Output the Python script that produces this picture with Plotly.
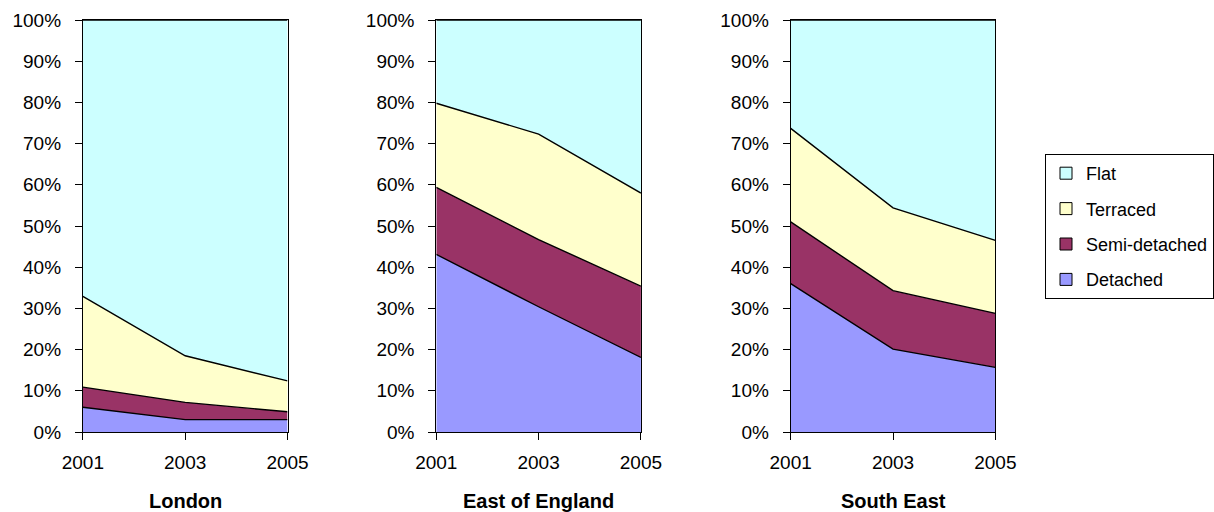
import plotly.graph_objects as go

years = [2001, 2003, 2005]
series_names = ["Detached", "Semi-detached", "Terraced", "Flat"]
colors = ["#9999FF", "#993366", "#FFFFCC", "#CCFFFF"]

regions = ["London", "East of England", "South East"]

london_detached = [6.0, 3.0, 3.0]
london_semi = [4.9, 4.2, 1.9]
london_terraced = [22.0, 11.3, 7.5]
london_flat = [67.1, 81.5, 87.6]

east_detached = [43.1, 30.4, 18.1]
east_semi = [16.3, 16.3, 17.3]
east_terraced = [20.4, 25.6, 22.6]
east_flat = [20.2, 27.7, 42.0]

se_detached = [36.0, 20.1, 15.7]
se_semi = [15.0, 14.2, 13.1]
se_terraced = [22.7, 20.1, 17.7]
se_flat = [26.3, 45.6, 53.5]

pct_ticks = list(range(0, 101, 10))
pct_labels = [f"{v}%" for v in pct_ticks]

region_data = [
    [london_detached, london_semi, london_terraced, london_flat],
    [east_detached, east_semi, east_terraced, east_flat],
    [se_detached, se_semi, se_terraced, se_flat],
]

W, H = 1214, 512
left_px = [83, 437, 792]
width_px = 205
top_px, bottom_px = 20, 432


def fx(px):
    return px / W


def fy(py):
    return 1 - py / H


FONT = "Liberation Sans, Arial, sans-serif"

fig = go.Figure()
layout = {}
for r, (reg, data) in enumerate(zip(regions, region_data)):
    sfx = "" if r == 0 else str(r + 1)
    for s, (name, vals, col) in enumerate(zip(series_names, data, colors)):
        fig.add_trace(go.Scatter(
            x=years, y=vals, name=name, mode="lines",
            stackgroup=f"g{r}", groupnorm="percent",
            line=dict(color="black", width=1.4),
            fillcolor=col,
            xaxis="x" + sfx, yaxis="y" + sfx,
            showlegend=False,
            hoverinfo="skip",
        ))
    x0 = fx(left_px[r])
    x1 = fx(left_px[r] + width_px)
    layout["xaxis" + sfx] = dict(
        domain=[x0, x1], range=[2001, 2005], tickvals=years,
        ticks="outside", ticklen=7, tickcolor="black",
        showline=True, linecolor="black", linewidth=1, mirror=True,
        showgrid=False, zeroline=False, anchor="y" + sfx,
        automargin=False, ticklabelstandoff=6,
        tickfont=dict(family=FONT, size=19, color="black"),
    )
    layout["yaxis" + sfx] = dict(
        domain=[fy(bottom_px), fy(top_px)], range=[0, 100],
        tickvals=pct_ticks, ticktext=pct_labels,
        ticks="outside", ticklen=7, tickcolor="black",
        showline=True, linecolor="black", linewidth=1, mirror=True,
        showgrid=False, zeroline=False, anchor="x" + sfx,
        automargin=False, ticklabelstandoff=10,
        tickfont=dict(family=FONT, size=19, color="black"),
    )
    fig.add_annotation(
        text=f"<b>{reg}</b>", x=(x0 + x1) / 2, y=fy(501),
        xref="paper", yref="paper", showarrow=False,
        font=dict(family=FONT, size=20, color="black"),
        xanchor="center", yanchor="middle",
    )

# legend entries as square swatches
for rank, (name, col) in enumerate(zip(series_names, colors)):
    fig.add_trace(go.Bar(
        x=[None], y=[None], name=name,
        marker=dict(color=col, line=dict(color="black", width=1)),
        legendrank=100 - rank, legendgroup=name,
        xaxis="x", yaxis="y", hoverinfo="skip",
    ))

fig.update_layout(
    width=W, height=H,
    margin=dict(l=0, r=0, t=0, b=0),
    paper_bgcolor="white", plot_bgcolor="white",
    showlegend=True,
    legend=dict(
        x=fx(1047), y=fy(154), xanchor="left", yanchor="top",
        traceorder="grouped", tracegroupgap=9,
        bordercolor="black", borderwidth=1, bgcolor="white",
        font=dict(family=FONT, size=18, color="black"),
        itemwidth=30,
    ),
    **layout,
)

fig.write_html(
    "out.html",
    config={"displayModeBar": False},
    post_script="document.body.style.margin='0';document.body.style.overflow='hidden';",
)
